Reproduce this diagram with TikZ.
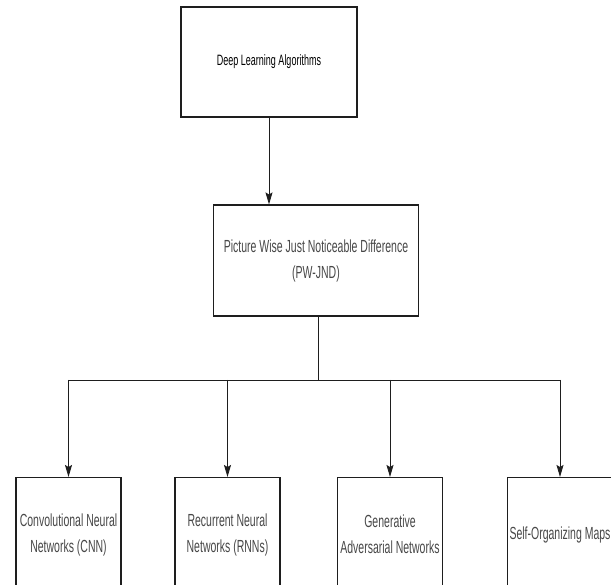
\documentclass[tikz,border=0pt]{standalone}
\usepackage{fontspec}
\usetikzlibrary{arrows.meta}
\newfontfamily\boxfont[FakeStretch=0.6]{Liberation Sans}
\definecolor{boxStroke}{RGB}{30,30,30}
\definecolor{labelGray}{RGB}{72,72,72}
\tikzset{
  algbox/.style={draw=boxStroke,line width=1.1pt,fill=white,inner sep=1pt,
    align=center,text=labelGray,font=\boxfont\fontsize{17.5}{26}\selectfont},
  rootbox/.style={algbox,minimum width=176pt,minimum height=110pt,text=black,
    font=\boxfont\fontsize{15}{20}\selectfont},
  jndbox/.style={algbox,minimum width=205pt,minimum height=111pt},
  leafbox/.style={algbox,anchor=north,minimum width=105pt,minimum height=114pt},
  link/.style={draw=boxStroke,line width=0.9pt},
  flow/.style={link,-{Stealth[length=12pt,width=7pt,inset=2pt]}}
}

\begin{document}
\begin{tikzpicture}[x=1pt,y=-1pt]
  \useasboundingbox (0,0) rectangle (611,585);
  \clip (0,0) rectangle (611,585);
  % top of the tree
  \node[rootbox] (dla) at (269,62) {Deep Learning Algorithms};
  \node[jndbox] (pwjnd) at (316,260.5) {Picture Wise Just Noticeable Difference\\(PW-JND)};
  % the four families
  \node[leafbox] (cnn) at (68.5,477) {Convolutional Neural\\Networks (CNN)};
  \node[leafbox] (rnn) at (227.5,477) {Recurrent Neural\\Networks (RNNs)};
  \node[leafbox] (gan) at (390,477) {Generative\\Adversarial Networks};
  \node[leafbox] (som) at (560,477) {Self-Organizing Maps};
  \coordinate (bus) at (318,380);
  % connectors
  \draw[flow] (dla.south) -- (dla.south |- pwjnd.north);
  \draw[link] (pwjnd.south -| bus) -- (bus);
  \draw[link] (cnn.north |- bus) -- (som.north |- bus);
  \foreach \leaf in {cnn,rnn,gan,som}{
    \draw[flow] (\leaf.north |- bus) -- (\leaf.north);
  }
\end{tikzpicture}
\end{document}
